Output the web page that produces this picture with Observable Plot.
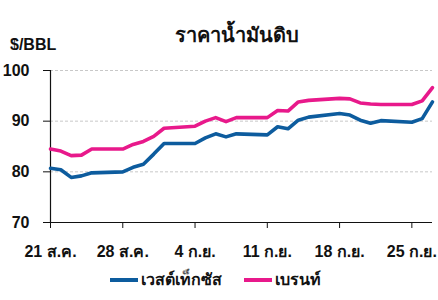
<!DOCTYPE html>
<html><head><meta charset="utf-8">
<script src="https://cdn.jsdelivr.net/npm/d3@7"></script>
<script src="https://cdn.jsdelivr.net/npm/@observablehq/plot@0.6"></script>
<style>
body{margin:0;background:#fff;font-family:"Liberation Sans",Arial,"Noto Sans",sans-serif;color:#111;}
#wrap{position:relative;width:438px;height:300px;overflow:hidden;}
#title{position:absolute;left:137px;width:200px;top:24px;text-align:center;font-weight:bold;font-size:20px;line-height:22px;}
#unit{position:absolute;left:10px;top:36px;font-weight:bold;font-size:16px;line-height:18px;}
#chart{position:absolute;left:0;top:50px;}
#legend{position:absolute;left:110px;top:271px;display:flex;align-items:center;font-weight:bold;font-size:16px;line-height:18px;}
.sw{display:inline-block;width:28px;height:4px;margin-right:3px;}
.item{display:flex;align-items:center;margin-right:22px;}
</style></head>
<body><div id="wrap">
<div id="title">ราคาน้ำมันดิบ</div>
<div id="unit">$/BBL</div>
<div id="chart"></div>
<div id="legend"></div>
</div>
<script>
const dates = ["2023-08-21","2023-08-22","2023-08-23","2023-08-24","2023-08-25",
  "2023-08-28","2023-08-29","2023-08-30","2023-08-31","2023-09-01",
  "2023-09-04","2023-09-05","2023-09-06","2023-09-07","2023-09-08",
  "2023-09-11","2023-09-12","2023-09-13","2023-09-14","2023-09-15",
  "2023-09-18","2023-09-19","2023-09-20","2023-09-21","2023-09-22",
  "2023-09-25","2023-09-26","2023-09-27"];
const wti = [80.7,80.4,78.9,79.2,79.8, 80.0,80.9,81.5,83.5,85.6, 85.6,86.7,87.5,86.9,87.5,
  87.3,88.9,88.5,90.2,90.8, 91.5,91.2,90.2,89.6,90.1, 89.8,90.5,93.8];
const brent = [84.5,84.1,83.2,83.3,84.5, 84.5,85.4,86.0,87.0,88.6, 89.0,90.0,90.7,89.9,90.7,
  90.7,92.1,92.0,93.8,94.1, 94.5,94.4,93.6,93.4,93.3, 93.3,94.0,96.6];
const seriesNames = ["เวสต์เท็กซัส","เบรนท์"];
const seriesColors = ["#0d5c9e","#e8198b"];
const tickDates = ["2023-08-21","2023-08-28","2023-09-04","2023-09-11","2023-09-18","2023-09-25"];
const tickLabels = ["21 ส.ค.","28 ส.ค.","4 ก.ย.","11 ก.ย.","18 ก.ย.","25 ก.ย."];
const yTicks = [70,80,90,100];
const gridValues = [80,90,100];
const xStart = "2023-08-21", xEnd = "2023-09-27";

const parse = s => new Date(s + "T00:00:00Z");
const rows = [];
dates.forEach((d,i) => {
  rows.push({date: parse(d), value: wti[i], series: seriesNames[0]});
  rows.push({date: parse(d), value: brent[i], series: seriesNames[1]});
});
const tickObjs = tickDates.map(parse);
const fmt = d => { const k = tickObjs.findIndex(t => +t === +d); return k >= 0 ? tickLabels[k] : ""; };

const chart = Plot.plot({
  width: 438, height: 210,
  marginLeft: 50, marginRight: 6, marginTop: 20, marginBottom: 38,
  style: {fontFamily: '"Liberation Sans", Arial, "Noto Sans", sans-serif', fontSize: "16px", fontWeight: "bold", color: "#111", background: "#fff"},
  x: {type: "utc", domain: [parse(xStart), parse(xEnd)]},
  y: {domain: [70, 100]},
  color: {domain: seriesNames, range: seriesColors},
  marks: [
    Plot.ruleY(gridValues, {stroke: "#c8c8c8", strokeDasharray: "3,2", strokeWidth: 1}),
    Plot.axisY({ticks: yTicks, tickSize: 7, tickPadding: 14, label: null, stroke: "#111"}),
    Plot.axisX({ticks: tickObjs, tickFormat: fmt, tickSize: 6, tickPadding: 17, label: null, stroke: "#111"}),
    Plot.ruleY([70], {stroke: "#111", strokeWidth: 1.2}),
    Plot.ruleX([parse(xStart)], {y1: 70, y2: 100, stroke: "#111", strokeWidth: 1.2}),
    Plot.line(rows, {x: "date", y: "value", z: "series", stroke: "series", strokeWidth: 3.6, strokeLinejoin: "round"})
  ]
});
document.getElementById("chart").appendChild(chart);

const lg = document.getElementById("legend");
seriesNames.forEach((n,i) => {
  const it = document.createElement("div"); it.className = "item";
  const sw = document.createElement("span"); sw.className = "sw"; sw.style.background = seriesColors[i];
  const tx = document.createElement("span"); tx.textContent = n;
  it.appendChild(sw); it.appendChild(tx); lg.appendChild(it);
});
</script>
</body></html>
